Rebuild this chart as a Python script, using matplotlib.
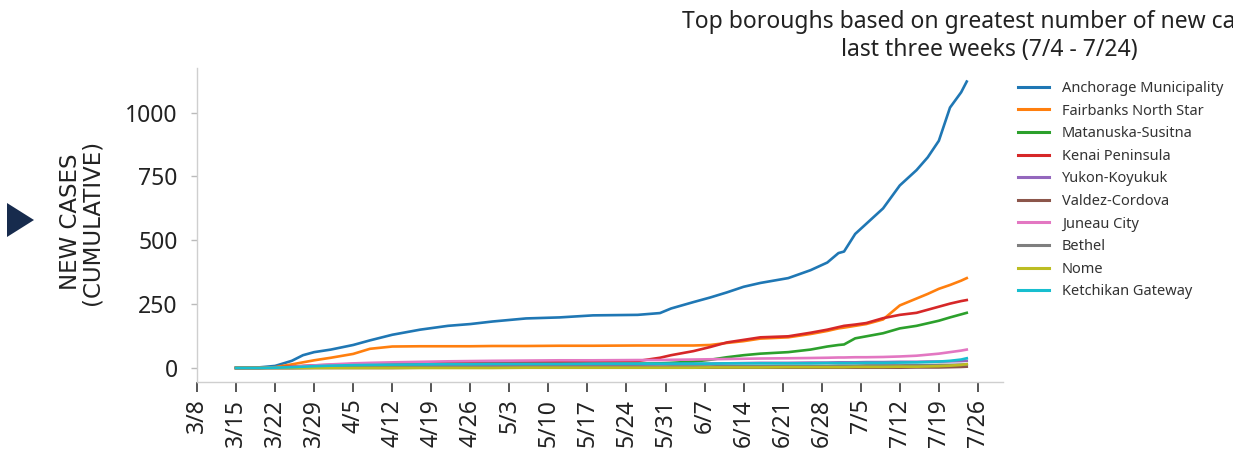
import matplotlib
matplotlib.use("Agg")
import matplotlib.pyplot as plt
import matplotlib.dates as mdates
from matplotlib.patches import Polygon
import datetime as dt

# ---------------- data ----------------
sample_dates = ["3/15", "3/19", "3/22", "3/25", "3/27", "3/29", "4/1", "4/5", "4/8", "4/12",
                "4/17", "4/22", "4/26", "4/30", "5/6", "5/12", "5/18", "5/26", "5/30", "6/1",
                "6/5", "6/8", "6/11", "6/14", "6/17", "6/22", "6/26", "6/29", "7/1", "7/2",
                "7/4", "7/6", "7/9", "7/12", "7/15", "7/17", "7/19", "7/21", "7/23", "7/24"]

anchorage = [0, 2, 8, 28, 50, 62, 72, 90, 108, 130, 150, 165, 172, 182, 194, 198, 206, 208, 215, 233,
             258, 276, 296, 318, 333, 352, 383, 413, 450, 456, 525, 565, 625, 715, 775, 825, 890, 1020, 1080, 1122]
fairbanks = [0, 0, 3, 14, 22, 30, 40, 55, 75, 84, 85, 85, 85, 86, 86, 87, 87, 88, 88, 88,
             88, 90, 98, 105, 115, 120, 133, 145, 155, 158, 165, 172, 190, 245, 272, 290, 310, 325, 342, 352]
matsu = [0, 0, 2, 4, 6, 7, 8, 10, 11, 12, 13, 14, 14, 15, 15, 16, 16, 17, 18, 20,
         25, 32, 42, 50, 56, 62, 72, 84, 90, 92, 116, 124, 136, 155, 165, 175, 185, 198, 210, 216]
kenai = [0, 0, 2, 5, 8, 10, 12, 15, 17, 18, 20, 21, 22, 23, 24, 24, 25, 27, 40, 50,
         66, 82, 100, 110, 120, 124, 138, 150, 160, 165, 170, 176, 195, 208, 216, 228, 240, 252, 262, 266]
yukon = [0, 0, 0, 0, 1, 1, 2, 3, 4, 5, 6, 7, 8, 9, 10, 11, 12, 13, 14, 15,
         16, 17, 18, 19, 20, 20, 21, 21, 22, 22, 22, 23, 23, 24, 24, 25, 25, 26, 27, 28]
valdez = [0, 0, 0, 0, 0, 0, 0, 0, 0, 0, 1, 1, 1, 1, 1, 1, 1, 1, 1, 1,
          1, 1, 1, 1, 1, 1, 1, 1, 1, 1, 1, 1, 1, 1, 2, 2, 2, 3, 4, 5]
juneau = [0, 0, 1, 4, 7, 10, 14, 18, 20, 22, 24, 26, 27, 28, 29, 30, 30, 31, 31, 32,
          33, 34, 35, 36, 37, 38, 39, 40, 41, 41, 42, 42, 43, 45, 48, 52, 56, 62, 68, 72]
bethel = [0, 0, 0, 0, 0, 1, 1, 2, 2, 3, 3, 4, 4, 4, 5, 5, 5, 5, 5, 6,
          6, 6, 7, 7, 7, 8, 8, 8, 9, 9, 9, 10, 10, 10, 11, 11, 12, 12, 13, 14]
nome = [0, 0, 0, 0, 0, 0, 0, 0, 0, 0, 0, 0, 0, 0, 1, 1, 1, 1, 1, 1,
        1, 2, 2, 2, 2, 3, 3, 3, 3, 3, 4, 4, 4, 5, 5, 6, 7, 9, 12, 15]
ketchikan = [0, 0, 1, 3, 5, 7, 9, 11, 12, 13, 14, 15, 15, 16, 16, 16, 17, 17, 17, 17,
             17, 17, 18, 18, 18, 18, 18, 19, 19, 19, 19, 20, 20, 21, 22, 23, 25, 28, 33, 38]

series_names = ["Anchorage Municipality", "Fairbanks North Star", "Matanuska-Susitna",
                "Kenai Peninsula", "Yukon-Koyukuk", "Valdez-Cordova", "Juneau City",
                "Bethel", "Nome", "Ketchikan Gateway"]
series_values = [anchorage, fairbanks, matsu, kenai, yukon, valdez, juneau, bethel, nome, ketchikan]

x_tick_labels = ["3/8", "3/15", "3/22", "3/29", "4/5", "4/12", "4/19", "4/26", "5/3", "5/10",
                 "5/17", "5/24", "5/31", "6/7", "6/14", "6/21", "6/28", "7/5", "7/12", "7/19", "7/26"]
y_ticks = [0, 250, 500, 750, 1000]

title_text = "Top boroughs based on greatest number of new cases in\nlast three weeks (7/4 - 7/24)"
ylabel_text = "NEW CASES\n(CUMULATIVE)"

# ---------------- helpers ----------------
def to_date(s):
    m, d = s.split("/")
    return dt.date(2020, int(m), int(d))

dates = [to_date(s) for s in sample_dates]
tick_dates = [to_date(s) for s in x_tick_labels]

colors = ["#1f77b4", "#ff7f0e", "#2ca02c", "#d62728", "#9467bd",
          "#8c564b", "#e377c2", "#7f7f7f", "#bcbd22", "#17becf"]

FONT = ["Noto Sans", "DejaVu Sans"]
plt.rcParams["font.family"] = FONT

W, H = 1233, 453
fig = plt.figure(figsize=(W / 100, H / 100), dpi=100)
ax = fig.add_axes([197 / W, 1 - 382 / H, (1003 - 197) / W, (382 - 68) / H])

for name, vals, c in zip(series_names, series_values, colors):
    ax.plot(dates, vals, color=c, lw=1.9, label=name, solid_joinstyle="round")

ax.set_xlim(mdates.date2num(dt.date(2020, 3, 8)), mdates.date2num(dt.date(2020, 7, 30)) + 0.5)
ax.set_ylim(-55, 1175)
ax.set_xticks(tick_dates)
ax.set_xticklabels(x_tick_labels, rotation=90)
ax.set_yticks(y_ticks)
ax.set_yticklabels([str(v) for v in y_ticks])

for side in ["top", "right"]:
    ax.spines[side].set_visible(False)
for side in ["left", "bottom"]:
    ax.spines[side].set_color("#cfcfcf")
    ax.spines[side].set_linewidth(1.0)

ax.tick_params(axis="x", length=7, width=1.4, color="#555555", labelsize=16.5,
               labelcolor="#222222", pad=5)
ax.tick_params(axis="y", length=4, width=1.0, color="#bbbbbb", labelsize=16.5,
               labelcolor="#222222", pad=10)

fig.text(81 / W, 1 - 222 / H, ylabel_text, rotation=90, ha="center", va="center",
         fontsize=16.5, color="#222222", linespacing=0.92, family=["DejaVu Sans"])

fig.text(989 / W, 1 - 10 / H, title_text, ha="center", va="top", fontsize=16.5,
         color="#222222", linespacing=1.22)

leg = fig.legend(loc="upper left", bbox_to_anchor=(1018 / W, 1 - 81 / H), frameon=False,
                 fontsize=10.5, handlelength=2.1, handletextpad=0.9, labelspacing=0.52,
                 borderpad=0, borderaxespad=0)
for t in leg.get_texts():
    t.set_color("#333333")
for l in leg.get_lines():
    l.set_linewidth(2.2)

tri = Polygon([(7 / W, 1 - 203 / H), (7 / W, 1 - 237 / H), (34 / W, 1 - 220 / H)],
              closed=True, transform=fig.transFigure, facecolor="#172b4d", edgecolor="none")
fig.add_artist(tri)

fig.savefig("out.png", dpi=100)
